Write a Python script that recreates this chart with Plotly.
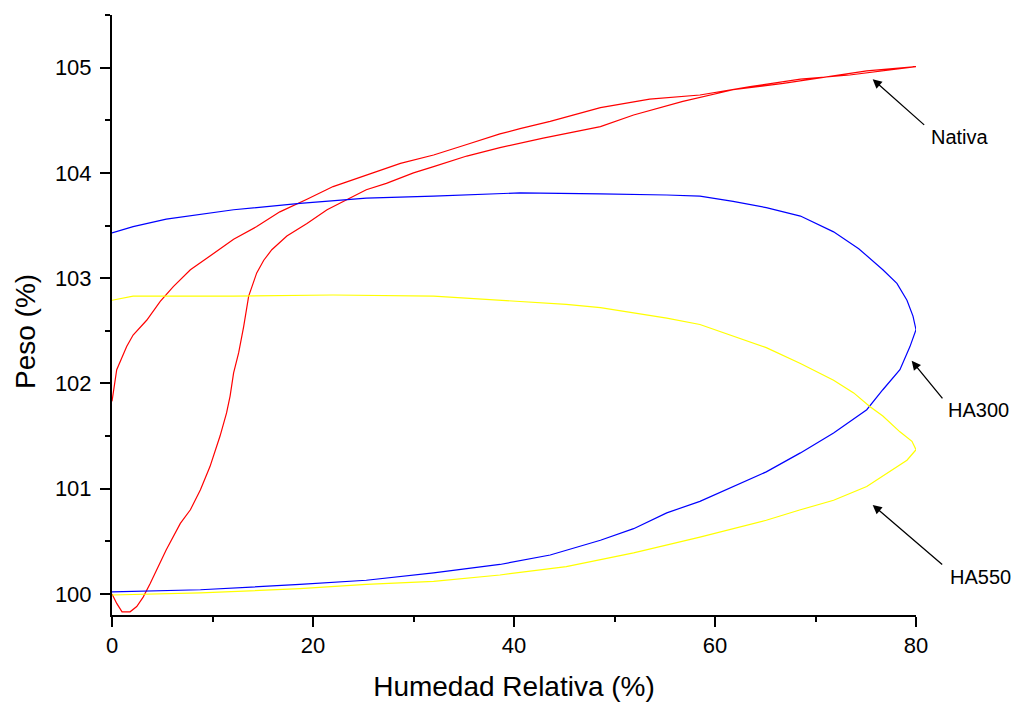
import plotly.graph_objects as go

# ---- Data (Humedad Relativa %, Peso %) ----
nativa_ads_x = [0, 0.47, 1.0, 1.8, 2.46, 3.1, 3.8, 5.4, 6.8, 7.8, 8.8, 9.75, 10.75, 11.4, 11.75, 12.1,
                12.6, 13.1, 13.6, 13.9, 14.4, 15.1, 15.9, 17.4, 19.4, 21.4, 23.4, 25.3, 27.3, 30.0,
                32.0, 35.3, 38.6, 42.9, 48.6, 51.9, 56.8, 61.8, 66.8, 71.8, 75.1, 80]
nativa_ads_y = [100.0, 99.91, 99.83, 99.83, 99.88, 99.97, 100.1, 100.42, 100.67, 100.8, 100.99, 101.21,
                101.5, 101.72, 101.88, 102.1, 102.29, 102.54, 102.83, 102.92, 103.05, 103.17, 103.27,
                103.4, 103.52, 103.65, 103.75, 103.84, 103.9, 104.0, 104.06, 104.16, 104.24, 104.33,
                104.44, 104.55, 104.68, 104.79, 104.85, 104.92, 104.97, 105.01]
nativa_des_x = [80, 73.4, 68.5, 63.5, 58.5, 53.5, 48.6, 43.6, 40.6, 38.6, 35.3, 32.0, 28.7, 25.3, 22.0,
                19.4, 16.7, 14.4, 12.1, 9.75, 7.8, 6.1, 4.8, 3.45, 2.1, 1.46, 0.47, 0]
nativa_des_y = [105.01, 104.93, 104.89, 104.82, 104.74, 104.7, 104.62, 104.49, 104.42, 104.37, 104.27,
                104.17, 104.09, 103.98, 103.87, 103.75, 103.63, 103.49, 103.37, 103.21, 103.08, 102.92,
                102.78, 102.6, 102.46, 102.35, 102.13, 101.83]

ha300_ads_x = [0, 8.8, 18.7, 25.3, 32, 38.6, 43.6, 48.6, 51.9, 55.2, 58.5, 61.8, 65.1, 68.5, 71.8,
               75.1, 76.7, 78.4, 79.4, 80]
ha300_ads_y = [100.02, 100.04, 100.09, 100.13, 100.2, 100.28, 100.37, 100.51, 100.62, 100.77, 100.88,
               101.02, 101.16, 101.34, 101.53, 101.75, 101.94, 102.13, 102.35, 102.51]
ha300_des_x = [79.7, 79.1, 78.1, 76.7, 75.1, 74.3, 71.8, 68.5, 65.1, 61.8, 58.5, 55.2, 48.6, 40.6,
               32, 25.3, 18.7, 12.1, 5.4, 2.1, 0]
ha300_des_y = [102.64, 102.79, 102.95, 103.08, 103.21, 103.28, 103.44, 103.59, 103.67, 103.73, 103.78,
               103.79, 103.8, 103.81, 103.78, 103.76, 103.71, 103.65, 103.56, 103.49, 103.43]

ha550_ads_x = [0, 8.8, 18.7, 25.3, 32, 38.6, 45.2, 51.9, 58.5, 65.1, 68.5, 71.8, 75.1, 77.7, 79.1, 80]
ha550_ads_y = [99.99, 100.01, 100.05, 100.09, 100.12, 100.18, 100.26, 100.39, 100.54, 100.7, 100.8,
               100.89, 101.02, 101.18, 101.27, 101.37]
ha550_des_x = [79.6, 78.4, 76.7, 75.4, 73.8, 71.8, 68.5, 65.1, 61.8, 58.5, 55.2, 51.9, 48.6, 45.2,
               38.6, 32, 22, 12.1, 2.1, 0]
ha550_des_y = [101.45, 101.54, 101.69, 101.78, 101.91, 102.03, 102.19, 102.34, 102.45, 102.56, 102.62,
               102.67, 102.72, 102.75, 102.79, 102.83, 102.84, 102.83, 102.83, 102.79]

series_names = ["Nativa", "HA300", "HA550"]
series_colors = ["#FF0000", "#0000FF", "#FFFF00"]

# arrow heads (data coords) for the labels
label_head_x = [75.69, 79.57, 75.69]
label_head_y = [104.89, 102.215, 100.846]

FONT = "Arial, Liberation Sans, sans-serif"

fig = go.Figure()
series = [
    (nativa_ads_x + nativa_des_x, nativa_ads_y + nativa_des_y),
    (ha300_ads_x + ha300_des_x, ha300_ads_y + ha300_des_y),
    (ha550_ads_x + ha550_des_x, ha550_ads_y + ha550_des_y),
]
for (xs, ys), name, col in zip(series, series_names, series_colors):
    fig.add_trace(go.Scatter(x=xs, y=ys, mode="lines", name=name,
                             line=dict(color=col, width=1.2), showlegend=False))

# arrows
arrow_offsets = [(53, 47), (32, 39), (71, 61)]
for hx, hy, (ax, ay) in zip(label_head_x, label_head_y, arrow_offsets):
    fig.add_annotation(x=hx, y=hy, xref="x", yref="y", text="", showarrow=True,
                       ax=ax, ay=ay, arrowhead=2, arrowsize=1.4, arrowwidth=1.3,
                       arrowcolor="black")

# label texts (paper coords)
label_px = [(960, 137), (978, 410), (980, 577)]
for name, (px, py) in zip(series_names, label_px):
    fig.add_annotation(x=(px - 112) / 804, y=(615 - py) / 600, xref="paper", yref="paper",
                       text=name, showarrow=False, xanchor="center", yanchor="middle",
                       font=dict(family=FONT, size=20, color="black"))

# y axis title (placed as annotation to match reference position)
fig.add_annotation(x=(25 - 112) / 804, y=(615 - 332) / 600, xref="paper", yref="paper",
                   text="Peso (%)", showarrow=False, textangle=-90,
                   xanchor="center", yanchor="middle",
                   font=dict(family=FONT, size=28, color="black"))

axis_common = dict(
    showline=True, linecolor="black", linewidth=2,
    ticks="outside", ticklen=10, tickwidth=2, tickcolor="black",
    showgrid=False, zeroline=False, mirror=False,
    tickfont=dict(family=FONT, size=22, color="black"),
)
fig.update_xaxes(range=[0, 80], dtick=20, tick0=0,
                 minor=dict(dtick=10, ticks="outside", ticklen=5, tickwidth=2, tickcolor="black",
                            showgrid=False),
                 title=dict(text="Humedad Relativa (%)", standoff=20,
                            font=dict(family=FONT, size=28, color="black")),
                 **axis_common)
fig.update_yaxes(range=[99.8, 105.5], dtick=1, tick0=100, ticklabelstandoff=4,
                 minor=dict(dtick=0.5, ticks="outside", ticklen=5, tickwidth=2, tickcolor="black",
                            showgrid=False),
                 **axis_common)

fig.update_layout(width=1013, height=702,
                  margin=dict(l=112, r=97, t=15, b=87, autoexpand=False),
                  paper_bgcolor="white", plot_bgcolor="white")

fig.write_html("out.html")
